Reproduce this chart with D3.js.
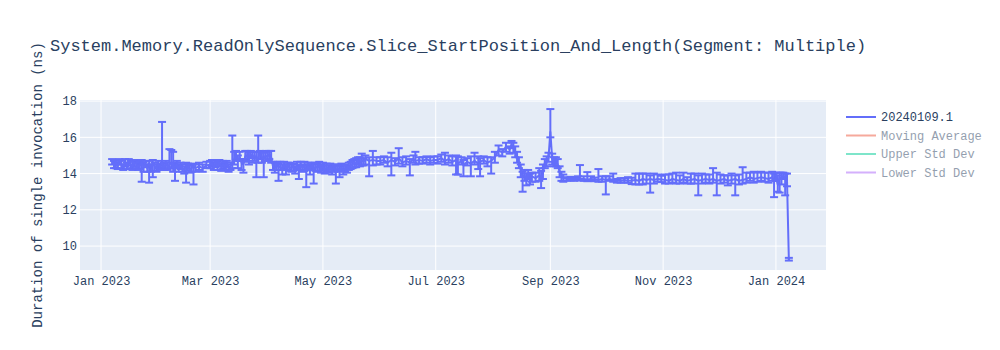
<!DOCTYPE html>
<html><head><meta charset="utf-8">
<script src="https://cdn.jsdelivr.net/npm/d3@7"></script>
<style>
html,body{margin:0;padding:0;background:#fff;}
text{font-family:"Courier New","Liberation Mono",monospace;}
</style></head>
<body><svg id="c" width="1000" height="350"></svg>
<script>
const title = "System.Memory.ReadOnlySequence.Slice_StartPosition_And_Length(Segment: Multiple)";
const yTitle = "Duration of single invocation (ns)";
const legendNames = ["20240109.1", "Moving Average", "Upper Std Dev", "Lower Std Dev"];
const legendColors = ["#636efa", "#EF553B", "#00cc96", "#ab63fa"];
const legendOnly = [false, true, true, true];
const yTicks = [10, 12, 14, 16, 18];

const dates = [
"2023-01-07","2023-01-08","2023-01-09","2023-01-10","2023-01-11","2023-01-12","2023-01-13","2023-01-14","2023-01-15","2023-01-16","2023-01-17","2023-01-18","2023-01-19","2023-01-20","2023-01-21","2023-01-22","2023-01-23","2023-01-24","2023-01-25","2023-01-26","2023-01-27","2023-01-28","2023-01-29","2023-01-30","2023-01-31",
"2023-02-01","2023-02-02","2023-02-03","2023-02-04","2023-02-05","2023-02-06","2023-02-07","2023-02-08","2023-02-09","2023-02-10","2023-02-11","2023-02-12","2023-02-13","2023-02-14","2023-02-15","2023-02-16","2023-02-17","2023-02-18","2023-02-19","2023-02-20","2023-02-21","2023-02-23","2023-02-25","2023-02-27",
"2023-03-01","2023-03-02","2023-03-03","2023-03-04","2023-03-05","2023-03-06","2023-03-07","2023-03-08","2023-03-09","2023-03-10","2023-03-11","2023-03-12","2023-03-13","2023-03-14","2023-03-15","2023-03-16","2023-03-17","2023-03-18","2023-03-19","2023-03-20","2023-03-21","2023-03-22","2023-03-23","2023-03-24","2023-03-25","2023-03-26","2023-03-27","2023-03-28","2023-03-29","2023-03-30","2023-03-31",
"2023-04-01","2023-04-02","2023-04-03","2023-04-04","2023-04-05","2023-04-06","2023-04-07","2023-04-08","2023-04-09","2023-04-10","2023-04-11","2023-04-12","2023-04-13","2023-04-14","2023-04-15","2023-04-16","2023-04-17","2023-04-18","2023-04-19","2023-04-20","2023-04-21","2023-04-22","2023-04-23","2023-04-24","2023-04-25","2023-04-26","2023-04-27","2023-04-28","2023-04-29","2023-04-30",
"2023-05-01","2023-05-02","2023-05-03","2023-05-04","2023-05-05","2023-05-06","2023-05-07","2023-05-08","2023-05-09","2023-05-10","2023-05-11","2023-05-12","2023-05-13","2023-05-14","2023-05-15","2023-05-16","2023-05-17","2023-05-18","2023-05-19","2023-05-20","2023-05-21","2023-05-22","2023-05-23","2023-05-24","2023-05-26","2023-05-28","2023-05-30",
"2023-06-01","2023-06-03","2023-06-05","2023-06-07","2023-06-09","2023-06-11","2023-06-13","2023-06-15","2023-06-17","2023-06-19","2023-06-20","2023-06-22","2023-06-24","2023-06-26","2023-06-28","2023-06-30",
"2023-07-02","2023-07-04","2023-07-06","2023-07-08","2023-07-10","2023-07-12","2023-07-13","2023-07-15","2023-07-16","2023-07-18","2023-07-20","2023-07-22","2023-07-24","2023-07-25","2023-07-27","2023-07-29","2023-07-31",
"2023-08-02","2023-08-04","2023-08-06","2023-08-08","2023-08-10","2023-08-11","2023-08-12","2023-08-13","2023-08-14","2023-08-15","2023-08-16","2023-08-17","2023-08-18","2023-08-19","2023-08-20","2023-08-21","2023-08-22","2023-08-24","2023-08-26","2023-08-27","2023-08-28","2023-08-29","2023-08-30","2023-08-31",
"2023-09-01","2023-09-02","2023-09-03","2023-09-04","2023-09-05","2023-09-06","2023-09-07","2023-09-08","2023-09-10","2023-09-12","2023-09-14","2023-09-16","2023-09-17","2023-09-19","2023-09-21","2023-09-23","2023-09-25","2023-09-27","2023-09-29",
"2023-10-01","2023-10-03","2023-10-05","2023-10-07","2023-10-09","2023-10-11","2023-10-13","2023-10-15","2023-10-17","2023-10-19","2023-10-21","2023-10-23","2023-10-25","2023-10-27","2023-10-29","2023-10-31",
"2023-11-02","2023-11-04","2023-11-06","2023-11-08","2023-11-10","2023-11-12","2023-11-14","2023-11-16","2023-11-18","2023-11-20","2023-11-22","2023-11-24","2023-11-26","2023-11-28","2023-11-30",
"2023-12-02","2023-12-04","2023-12-06","2023-12-08","2023-12-10","2023-12-12","2023-12-14","2023-12-16","2023-12-18","2023-12-20","2023-12-22","2023-12-24","2023-12-26","2023-12-28","2023-12-30","2023-12-31",
"2024-01-01","2024-01-02","2024-01-03","2024-01-04","2024-01-05","2024-01-06","2024-01-07","2024-01-08"
];

const values = [
14.65,14.5,14.6,14.4,14.7,14.5,14.35,14.6,14.45,14.7,14.5,14.4,14.6,14.55,14.4,14.45,14.6,14.4,14.5,14.3,14.55,14.3,14.6,14.4,14.3,
14.5,14.35,14.6,14.4,14.5,14.4,14.5,14.6,14.3,14.4,14.5,14.3,14.45,14.3,14.2,14.4,14.35,14.25,14.3,14.4,14.3,14.4,14.3,14.45,
14.5,14.6,14.4,14.55,14.45,14.6,14.35,14.5,14.4,14.55,14.3,14.4,14.6,14.8,15.0,14.7,14.9,14.6,14.5,14.95,15.0,14.8,15.05,14.9,15.0,14.8,14.9,15.1,14.9,14.8,15.0,
14.9,15.1,14.9,14.4,14.3,14.5,14.35,14.4,14.2,14.45,14.3,14.4,14.35,14.3,14.4,14.2,14.4,14.2,14.5,14.3,14.45,14.1,14.4,14.25,14.45,14.2,14.4,14.3,14.45,14.25,
14.4,14.2,14.35,14.25,14.4,14.2,14.3,14.15,14.3,14.2,14.35,14.2,14.3,14.25,14.4,14.45,14.5,14.6,14.55,14.7,14.6,14.75,14.65,14.8,14.7,14.75,14.7,
14.7,14.75,14.6,14.75,14.65,14.85,14.6,14.7,14.6,14.8,14.7,14.75,14.7,14.8,14.7,14.75,
14.75,14.85,14.7,14.8,14.65,14.75,14.55,14.7,14.45,14.65,14.55,14.7,14.55,14.65,14.75,14.6,14.7,
14.9,15.3,15.15,15.5,15.35,15.6,15.45,15.2,14.9,14.6,14.2,13.8,13.9,13.75,13.9,13.7,13.85,13.75,13.9,13.8,14.0,14.6,14.7,14.85,
16.3,14.8,14.6,14.7,14.5,14.1,13.9,13.75,13.7,13.72,13.7,13.75,13.72,13.7,13.68,13.7,13.68,13.65,13.7,
13.65,13.7,13.65,13.6,13.6,13.65,13.6,13.62,13.65,13.6,13.7,13.65,13.7,13.65,13.7,13.68,
13.65,13.6,13.7,13.65,13.6,13.7,13.6,13.65,13.7,13.6,13.65,13.7,13.65,13.7,13.6,
13.65,13.7,13.6,13.65,13.7,13.6,13.65,13.7,13.8,13.7,13.75,13.8,13.75,13.7,13.8,13.6,
13.8,13.4,13.8,13.7,13.9,13.7,13.6,9.25
];

const errPlus = [
.15,.2,.15,.2,.1,.2,.15,.2,.15,.1,.2,.25,.15,.2,.2,.2,.15,.2,.2,.2,.15,.2,.15,.2,.2,
.2,.2,2.25,.2,.2,.2,.85,.7,.9,.2,.2,.2,.15,.2,.2,.2,.2,.2,.2,.15,.2,.2,.2,.2,
.2,.15,.2,.2,.2,.15,.2,.2,.2,.15,.2,.2,1.5,.4,.25,.3,.3,.2,.3,.3,.25,.4,.2,.3,.2,.4,1.2,.15,.3,.35,.25,
.3,.15,.35,.25,.3,.15,.2,.25,.3,.2,.2,.2,.25,.2,.15,.2,.25,.3,.15,.2,.2,.35,.2,.25,.15,.3,.2,.25,.2,.25,
.2,.25,.2,.2,.15,.2,.2,.3,.2,.2,.2,.25,.2,.2,.2,.2,.25,.2,.3,.2,.3,.35,.2,.2,.2,.5,.2,
.2,.2,.3,.4,.2,.55,.3,.25,.2,.2,.5,.15,.2,.15,.2,.2,
.2,.2,.45,.2,.3,.25,.4,.2,.3,.2,.4,.45,.4,.2,.2,.3,.2,
.3,.25,.2,.2,.15,.2,.25,.3,.3,.3,.3,.3,.3,.25,.3,.3,.2,.3,.4,.35,.5,.2,.25,.3,
1.26,.3,.3,.2,.3,.3,.2,.2,.1,.1,.1,.1,.75,.15,.4,.15,.1,.6,.15,
.2,.15,.35,.1,.15,.1,.2,.15,.35,.4,.3,.35,.2,.35,.25,.2,
.3,.35,.3,.4,.3,.35,.2,.35,.3,.3,.35,.25,.3,.6,.45,
.3,.2,.3,.35,.2,.35,.7,.35,.25,.4,.3,.3,.3,.35,.3,.4,
.25,.5,.25,.35,.15,.3,.4,.1
];

const errMinus = [
.15,.2,.3,.15,.2,.2,.15,.2,.2,.25,.2,.2,.2,.25,.2,.2,1.05,.3,.15,.2,1.05,.2,.8,.25,.2,
.2,.15,.3,.2,.25,.2,.2,.25,.2,.8,.2,.2,.2,.2,.2,.9,.2,.2,.2,1.0,.2,.2,.2,.15,
.2,.2,.2,.2,.25,.2,.2,.25,.2,.2,.2,.2,.3,.3,.3,.4,.2,.4,.45,.3,.3,.3,.2,.3,.3,1.0,.3,.3,.3,1.0,.3,
.2,.3,.3,.2,.25,.3,.75,.2,.25,.2,.35,.2,.2,.2,.25,.2,.2,.5,.3,.2,.3,.85,.2,.3,.2,.75,.25,.2,.3,.2,
.2,.2,.25,.2,.2,.25,.2,.7,.2,.4,.2,.25,.2,.2,.2,.2,.2,.25,.2,.2,.2,.3,.2,.3,.85,.3,.2,
.2,.15,.2,.85,.2,.3,.2,.2,.7,.2,.2,.2,.15,.2,.2,.15,
.2,.2,.2,.2,.2,.8,.6,.2,.6,.2,.7,.2,.3,.8,.2,.2,.7,
.3,.3,.2,.3,.25,.2,.3,.3,.3,.3,.4,.8,.3,.4,.2,.3,.3,.2,.3,.6,.3,.3,.3,.2,
.3,.3,.2,.3,.2,.3,.3,.2,.1,.1,.1,.1,.1,.1,.1,.1,.1,.1,.15,
.8,.1,.1,.1,.1,.15,.1,.2,.25,.2,.3,.2,.75,.2,.15,.15,
.2,.15,.2,.2,.15,.2,.15,.2,.25,.8,.2,.2,.2,.2,.8,
.2,.2,.25,.2,.9,.2,.2,.2,.2,.2,.2,.2,.2,.2,.2,.9,
.2,.4,.85,.3,.2,.9,.3,.05
];

const color = "#636efa";
const fontColor = "#2a3f5f";
const parse = d3.utcParse("%Y-%m-%d");
const data = dates.map((d, i) => ({ t: parse(d), v: values[i], up: errPlus[i], dn: errMinus[i] }));

const plot = { left: 80, right: 826, top: 100, bottom: 270 };
const svg = d3.select("#c");

const x = d3.scaleUtc()
  .domain([new Date(Date.UTC(2022, 11, 20, 15)), new Date(Date.UTC(2024, 0, 28, 2))])
  .range([plot.left, plot.right]);
const y = d3.scaleLinear().domain([8.68, 18.06]).range([plot.bottom, plot.top]);

svg.append("rect").attr("x", plot.left).attr("y", plot.top)
  .attr("width", plot.right - plot.left).attr("height", plot.bottom - plot.top)
  .attr("fill", "#e5ecf6");

const xTicks = x.ticks(d3.utcMonth.every(2));
svg.append("g").selectAll("line").data(xTicks).join("line")
  .attr("x1", d => x(d)).attr("x2", d => x(d))
  .attr("y1", plot.top).attr("y2", plot.bottom)
  .attr("stroke", "#fff").attr("stroke-width", 1);
svg.append("g").selectAll("line").data(yTicks).join("line")
  .attr("x1", plot.left).attr("x2", plot.right)
  .attr("y1", d => y(d)).attr("y2", d => y(d))
  .attr("stroke", "#fff").attr("stroke-width", 1);

const xAxis = svg.append("g").attr("transform", `translate(0,${plot.bottom})`)
  .call(d3.axisBottom(x).tickValues(xTicks).tickFormat(d3.utcFormat("%b %Y")).tickSize(0).tickPadding(6));
const yAxis = svg.append("g").attr("transform", `translate(${plot.left},0)`)
  .call(d3.axisLeft(y).tickValues(yTicks).tickSize(0).tickPadding(3));
[xAxis, yAxis].forEach(g => {
  g.select(".domain").remove();
  g.selectAll("text").attr("font-size", 12).attr("fill", fontColor)
    .attr("font-family", '"Courier New","Liberation Mono",monospace');
});

svg.append("clipPath").attr("id", "clip").append("rect")
  .attr("x", plot.left).attr("y", plot.top)
  .attr("width", plot.right - plot.left).attr("height", plot.bottom - plot.top);
const g = svg.append("g").attr("clip-path", "url(#clip)");

const eb = g.append("g").attr("stroke", color).attr("stroke-width", 2).attr("fill", "none");
data.forEach(d => {
  const cx = x(d.t), yt = y(d.v + d.up), yb = y(d.v - d.dn);
  eb.append("line").attr("x1", cx).attr("x2", cx).attr("y1", yt).attr("y2", yb);
  eb.append("line").attr("x1", cx - 4).attr("x2", cx + 4).attr("y1", yt).attr("y2", yt);
  eb.append("line").attr("x1", cx - 4).attr("x2", cx + 4).attr("y1", yb).attr("y2", yb);
});

g.append("path").datum(data)
  .attr("d", d3.line().x(d => x(d.t)).y(d => y(d.v)))
  .attr("fill", "none").attr("stroke", color).attr("stroke-width", 2)
  .attr("stroke-linejoin", "round");

svg.append("text").attr("x", 50).attr("y", 51).text(title)
  .attr("font-size", 17).attr("fill", fontColor);

svg.append("text").attr("transform", `translate(42,${(plot.top + plot.bottom) / 2}) rotate(-90)`)
  .attr("text-anchor", "middle").attr("font-size", 14).attr("fill", fontColor).text(yTitle);

const lg = svg.append("g");
legendNames.forEach((n, i) => {
  const row = lg.append("g").attr("transform", `translate(0,${117 + i * 18.5})`)
    .attr("opacity", legendOnly[i] ? 0.5 : 1);
  row.append("line").attr("x1", 846).attr("x2", 876).attr("y1", 0).attr("y2", 0)
    .attr("stroke", legendColors[i]).attr("stroke-width", 2);
  row.append("text").attr("x", 881).attr("y", 0).attr("dy", "0.35em")
    .attr("font-size", 12).attr("fill", fontColor).text(n);
});
</script>
</body></html>
